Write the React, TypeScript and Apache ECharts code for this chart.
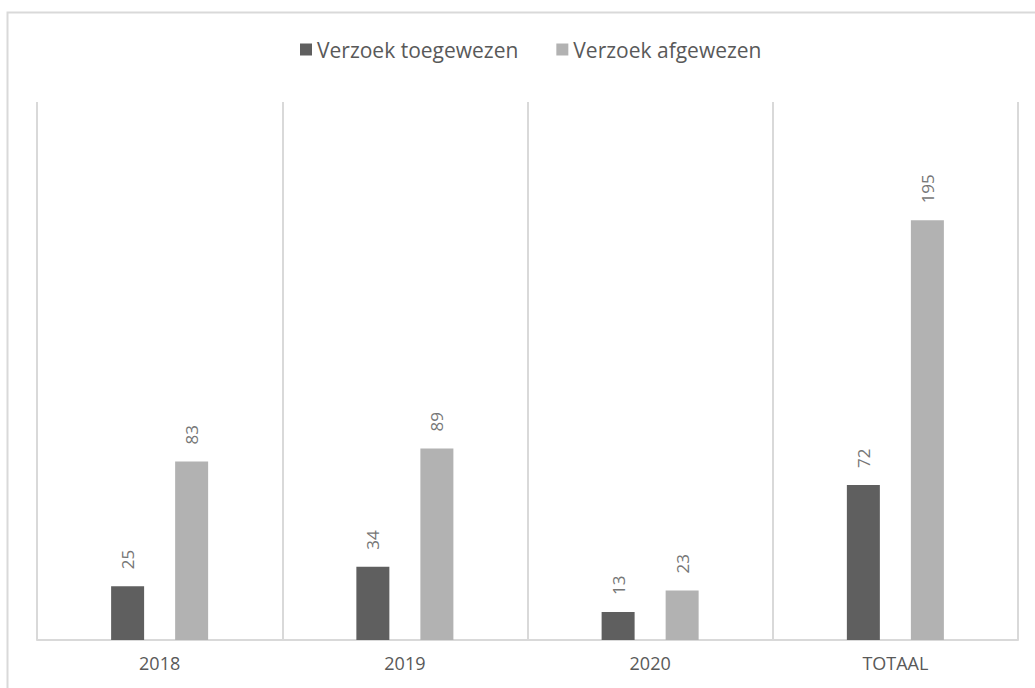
import React, { useEffect, useRef } from "react";
import * as echarts from "echarts";

const categories = ["2018", "2019", "2020", "TOTAAL"];
const toegewezen = [25, 34, 13, 72];
const afgewezen = [83, 89, 23, 195];
const seriesNames = ["Verzoek toegewezen", "Verzoek afgewezen"];

const FONT = "'Open Sans', 'Noto Sans', sans-serif";

export default function App() {
  const ref = useRef<HTMLDivElement>(null);
  useEffect(() => {
    if (!ref.current) return;
    const chart = echarts.init(ref.current, null, { renderer: "svg" });
    const label = {
      show: true,
      position: "top",
      rotate: 90,
      align: "left",
      verticalAlign: "middle",
      distance: 17,
      color: "#767676",
      fontSize: 17,
      fontFamily: FONT,
    };
    chart.setOption({
      animation: false,
      backgroundColor: "#ffffff",
      textStyle: { fontFamily: FONT },
      legend: {
        top: 39,
        left: 300,
        itemWidth: 12,
        itemHeight: 12,
        itemGap: 38,
        icon: "rect",
        padding: 0,
        textStyle: { color: "#595959", fontSize: 21, fontFamily: FONT },
        data: seriesNames,
      },
      grid: { left: 37, right: 17, top: 102, bottom: 48 },
      xAxis: {
        type: "category",
        data: categories,
        boundaryGap: true,
        axisLine: { show: true, lineStyle: { color: "#d9d9d9", width: 2 } },
        axisTick: { show: false },
        splitLine: { show: true, lineStyle: { color: "#d9d9d9", width: 2 } },
        axisLabel: { color: "#595959", fontSize: 18, fontFamily: FONT, margin: 14 },
      },
      yAxis: {
        type: "value",
        min: 0,
        max: 250,
        show: false,
        splitLine: { show: false },
      },
      graphic: [
        {
          type: "rect",
          shape: { x: 7.5, y: 12.5, width: 1100, height: 800 },
          style: { fill: "none", stroke: "#d9d9d9", lineWidth: 2 },
          silent: true,
        },
      ],
      series: [
        {
          name: seriesNames[0],
          type: "bar",
          data: toegewezen,
          barWidth: 33,
          barGap: "94%",
          itemStyle: { color: "#5f5f5f" },
          label,
        },
        {
          name: seriesNames[1],
          type: "bar",
          data: afgewezen,
          barWidth: 33,
          itemStyle: { color: "#b2b2b2" },
          label,
        },
      ],
    });
    return () => chart.dispose();
  }, []);
  return (
    <div
      ref={ref}
      style={{ position: "absolute", left: 0, top: 0, width: 1035, height: 688 }}
    />
  );
}
